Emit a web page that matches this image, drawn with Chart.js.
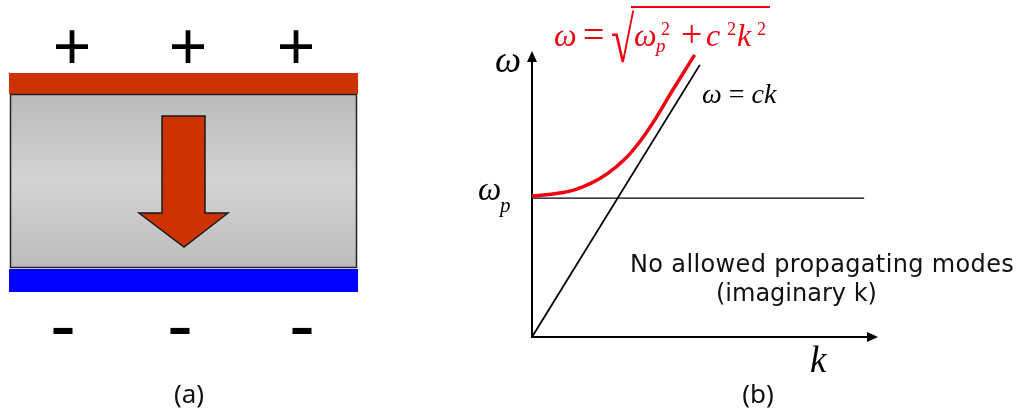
<!DOCTYPE html>
<html>
<head>
<meta charset="utf-8">
<script src="https://cdn.jsdelivr.net/npm/chart.js@4.4.3/dist/chart.umd.min.js"></script>
<style>
  html, body { margin: 0; padding: 0; background: #fff; }
  #wrap { position: relative; width: 1024px; height: 412px; overflow: hidden; background: #fff; }
  #chart { position: absolute; left: 0; top: 0; }
  .t { position: absolute; line-height: 0; white-space: nowrap; }
  .ser { font-family: 'Liberation Serif', 'DejaVu Serif', serif; }
  .it { font-style: italic; }
  .red { color: #f00010; }
  .sans { font-family: 'DejaVu Sans', sans-serif; color: #111; }
  .cap { font-family: 'Noto Sans', 'Open Sans', sans-serif; font-size: 26px; transform: translateX(-50%); color: #111; }
  .sign { font-family: 'Liberation Sans', Arial, sans-serif; transform: translateX(-50%); color: #000; }
</style>
</head>
<body>
<div id="wrap">
  <canvas id="chart" width="1024" height="412"></canvas>

  <!-- panel (a) charges -->
  <div class="t sign" style="left:72px;top:46px;font-size:66px">+</div>
  <div class="t sign" style="left:188px;top:46px;font-size:66px">+</div>
  <div class="t sign" style="left:296px;top:46px;font-size:66px">+</div>
  <div class="t sign" style="left:63px;top:325px;font-size:78px">-</div>
  <div class="t sign" style="left:180px;top:325px;font-size:78px">-</div>
  <div class="t sign" style="left:302px;top:325px;font-size:78px">-</div>
  <div class="t cap" style="left:189px;top:393px">(a)</div>
  <div class="t cap" style="left:758px;top:393px">(b)</div>

  <!-- panel (b) axis labels -->
  <div class="t ser it" style="left:495px;top:60px;font-size:37px">ω</div>
  <div class="t ser it" style="left:478px;top:189px;font-size:33px">ω</div>
  <div class="t ser it" style="left:500px;top:205px;font-size:21px">p</div>
  <div class="t ser it" style="left:810px;top:360px;font-size:37px">k</div>
  <div class="t ser" style="left:702px;top:94px;font-size:28px"><i>ω</i> = <i>ck</i></div>

  <!-- dispersion formula -->
  <div class="t ser it red" style="left:554px;top:35px;font-size:32px">ω</div>
  <div class="t ser red" style="left:583px;top:34px;font-size:38px">=</div>
  <div class="t ser red" style="left:611px;top:40px;font-size:65px;transform:scaleX(0.65);transform-origin:0 0">√</div>
  <div style="position:absolute;left:631px;top:6px;width:139px;height:1.5px;background:#f00010"></div>
  <div class="t ser it red" style="left:634px;top:35px;font-size:32px">ω</div>
  <div class="t ser red" style="left:661px;top:29px;font-size:18px">2</div>
  <div class="t ser it red" style="left:656px;top:46px;font-size:19px">p</div>
  <div class="t ser red" style="left:681px;top:34px;font-size:38px">+</div>
  <div class="t ser it red" style="left:706px;top:35px;font-size:32px">c</div>
  <div class="t ser red" style="left:727px;top:29px;font-size:18px">2</div>
  <div class="t ser it red" style="left:737px;top:35px;font-size:32px">k</div>
  <div class="t ser red" style="left:757px;top:29px;font-size:18px">2</div>

  <div class="t sans" style="left:630px;top:264px;font-size:24px;letter-spacing:0.36px">No allowed propagating modes</div>
  <div class="t sans" style="left:716px;top:293px;font-size:24px">(imaginary k)</div>
</div>

<script>
// Values: k along x, omega along y (omega_p = 1)
const kCurve = [0, 0.30, 0.50, 0.69, 0.88, 1.08, 1.25, 1.39, 1.62, 1.88];
const wCurve = [1.016, 1.035, 1.062, 1.11, 1.18, 1.285, 1.41, 1.535, 1.772, 2.032];
const kLight = [0, 1.94];
const wLight = [0, 1.96];
const kPlasma = [0, 3.84];
const wPlasma = [1, 1];
const kMax = 4.0;
const wMax = 2.06;

function toPoints(xs, ys) {
  return xs.map((x, i) => ({ x, y: ys[i] }));
}

// panel (a): charged plates with field arrow
const plateSketch = {
  id: 'plateSketch',
  beforeDraw(chart) {
    const ctx = chart.ctx;
    ctx.save();
    ctx.fillStyle = '#cc3300';
    ctx.fillRect(9, 73, 349, 21);

    const g = ctx.createLinearGradient(0, 94, 0, 268);
    g.addColorStop(0, '#bababa');
    g.addColorStop(0.5, '#d3d3d3');
    g.addColorStop(1, '#bcbcbc');
    ctx.fillStyle = g;
    ctx.fillRect(10, 94, 347, 174);
    ctx.strokeStyle = '#222';
    ctx.lineWidth = 1.5;
    ctx.strokeRect(10.5, 94.5, 346, 173);

    ctx.fillStyle = '#0000ff';
    ctx.fillRect(9, 269, 349, 23);

    ctx.beginPath();
    ctx.moveTo(162, 116);
    ctx.lineTo(205, 116);
    ctx.lineTo(205, 213);
    ctx.lineTo(228, 213);
    ctx.lineTo(184, 247);
    ctx.lineTo(139, 213);
    ctx.lineTo(162, 213);
    ctx.closePath();
    ctx.fillStyle = '#cc3300';
    ctx.fill();
    ctx.strokeStyle = '#1a1a1a';
    ctx.lineWidth = 1.5;
    ctx.stroke();
    ctx.restore();
  }
};

// panel (b): axes with arrowheads
const arrowAxes = {
  id: 'arrowAxes',
  beforeDatasetsDraw(chart) {
    const { ctx, scales } = chart;
    const x0 = scales.x.getPixelForValue(0);
    const y0 = scales.y.getPixelForValue(0);
    const xEnd = scales.x.getPixelForValue(kMax);
    const yEnd = scales.y.getPixelForValue(wMax);
    ctx.save();
    ctx.strokeStyle = '#000';
    ctx.fillStyle = '#000';
    ctx.lineWidth = 2;
    ctx.beginPath();
    ctx.moveTo(x0, y0);
    ctx.lineTo(x0, yEnd + 8);
    ctx.moveTo(x0 - 1, y0);
    ctx.lineTo(xEnd - 8, y0);
    ctx.stroke();
    ctx.beginPath();
    ctx.moveTo(x0, yEnd);
    ctx.lineTo(x0 - 5, yEnd + 11);
    ctx.lineTo(x0 + 5, yEnd + 11);
    ctx.closePath();
    ctx.fill();
    ctx.beginPath();
    ctx.moveTo(xEnd, y0);
    ctx.lineTo(xEnd - 11, y0 - 5);
    ctx.lineTo(xEnd - 11, y0 + 5);
    ctx.closePath();
    ctx.fill();
    ctx.restore();
  }
};

new Chart(document.getElementById('chart'), {
  type: 'scatter',
  data: {
    datasets: [
      {
        label: 'ω = √(ωp² + c²k²)',
        data: toPoints(kCurve, wCurve),
        showLine: true,
        borderColor: '#f00010',
        borderWidth: 3.5,
        pointRadius: 0,
        cubicInterpolationMode: 'monotone',
        clip: false
      },
      {
        label: 'ω = ck',
        data: toPoints(kLight, wLight),
        showLine: true,
        borderColor: '#000',
        borderWidth: 1.8,
        pointRadius: 0,
        clip: false
      },
      {
        label: 'ωp',
        data: toPoints(kPlasma, wPlasma),
        showLine: true,
        borderColor: '#000',
        borderWidth: 1.2,
        pointRadius: 0,
        clip: false
      }
    ]
  },
  options: {
    responsive: false,
    animation: false,
    devicePixelRatio: 1,
    layout: { padding: { left: 532, right: 146, top: 51, bottom: 75 } },
    scales: {
      x: { type: 'linear', min: 0, max: kMax, display: false },
      y: { type: 'linear', min: 0, max: wMax, display: false }
    },
    plugins: {
      legend: { display: false },
      tooltip: { enabled: false }
    }
  },
  plugins: [plateSketch, arrowAxes]
});
</script>
</body>
</html>
